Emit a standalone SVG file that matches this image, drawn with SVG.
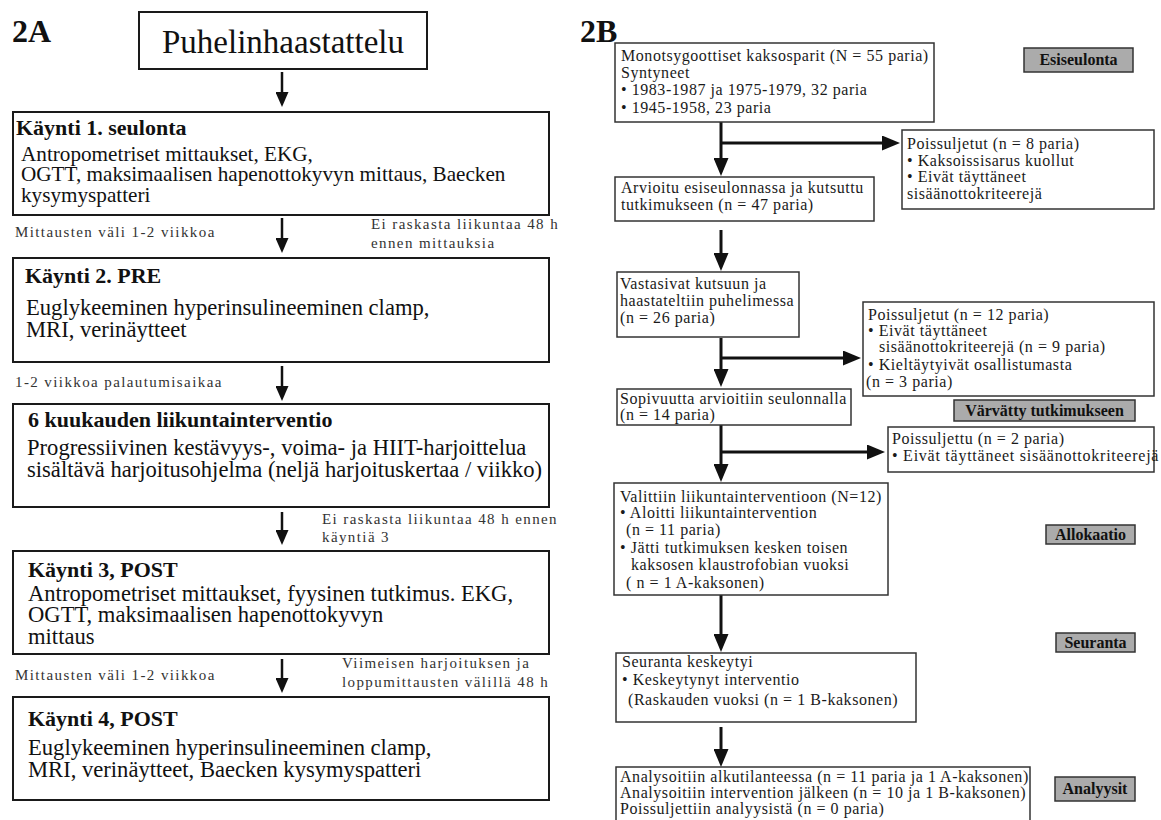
<svg xmlns="http://www.w3.org/2000/svg" width="1161" height="820" viewBox="0 0 1161 820">
<defs>
<style>
text{font-family:"Liberation Serif","Times New Roman",serif;fill:#111}
.pl{font-size:32px;font-weight:bold}
.boxA{fill:#fff;stroke:#1a1a1a;stroke-width:2}
.boxB{fill:#fff;stroke:#333;stroke-width:1.5}
.tag{fill:#ababab;stroke:#333;stroke-width:1.5}
.tt{font-size:22px;font-weight:bold}
.b22{font-size:21.2px}
.b23{font-size:22.6px}
.lab{font-size:15px;letter-spacing:1.4px;fill:#333}
.rb{font-size:16px;letter-spacing:0.55px;fill:#1a1a1a}
.tg{font-size:16px;font-weight:bold;text-anchor:middle}
.cA{fill:none;stroke:#111;stroke-width:2.5}
.cB{fill:none;stroke:#111;stroke-width:3}
</style>
<marker id="ahA" viewBox="0 0 15 13" refX="0" refY="6.5" markerWidth="15" markerHeight="13" markerUnits="userSpaceOnUse" orient="auto"><path d="M0,0 L15,6.5 L0,13 z" fill="#111"/></marker>
<marker id="ahB" viewBox="0 0 18 15" refX="0" refY="7.5" markerWidth="18" markerHeight="15" markerUnits="userSpaceOnUse" orient="auto"><path d="M0,0 L18,7.5 L0,15 z" fill="#111"/></marker>
</defs>
<rect width="1161" height="820" fill="#fff"/>

<text class="pl" x="12" y="42">2A</text>
<text class="pl" x="580" y="42">2B</text>

<g id="connectors">
<path class="cA" d="M282,72 V92" marker-end="url(#ahA)"/>
<path class="cA" d="M282,218 V238" marker-end="url(#ahA)"/>
<path class="cA" d="M282,366 V386" marker-end="url(#ahA)"/>
<path class="cA" d="M282,512 V530" marker-end="url(#ahA)"/>
<path class="cA" d="M282,659 V678" marker-end="url(#ahA)"/>
<path class="cB" d="M721,122 V158" marker-end="url(#ahB)"/>
<path class="cB" d="M721,143 H882" marker-end="url(#ahB)"/>
<path class="cB" d="M721,230 V253" marker-end="url(#ahB)"/>
<path class="cB" d="M721,338 V369" marker-end="url(#ahB)"/>
<path class="cB" d="M721,358 H843" marker-end="url(#ahB)"/>
<path class="cB" d="M721,425 V464" marker-end="url(#ahB)"/>
<path class="cB" d="M721,452 H867" marker-end="url(#ahB)"/>
<path class="cB" d="M721,595 V634" marker-end="url(#ahB)"/>
<path class="cB" d="M721,727 V749" marker-end="url(#ahB)"/>
</g>

<g id="labelsA">
<text class="lab" x="15" y="237">Mittausten väli 1-2 viikkoa</text>
<text class="lab" x="371" y="229">Ei raskasta liikuntaa 48 h</text>
<text class="lab" x="371" y="248">ennen mittauksia</text>
<text class="lab" x="15" y="387">1-2 viikkoa palautumisaikaa</text>
<text class="lab" x="322" y="524">Ei raskasta liikuntaa 48 h ennen</text>
<text class="lab" x="322" y="542">käyntiä 3</text>
<text class="lab" x="15" y="680">Mittausten väli 1-2 viikkoa</text>
<text class="lab" x="342" y="668">Viimeisen harjoituksen ja</text>
<text class="lab" x="342" y="687">loppumittausten välillä 48 h</text>
</g>

<g id="puhelinhaastattelu">
<rect class="boxA" x="139" y="12" width="288" height="57"/>
<text x="283" y="53" font-size="33" text-anchor="middle">Puhelinhaastattelu</text>
</g>

<g id="kaynti1">
<rect class="boxA" x="13" y="112" width="536" height="103"/>
<text class="tt" x="16" y="135">Käynti 1. seulonta</text>
<text class="b22" x="21" y="161">Antropometriset mittaukset, EKG,</text>
<text class="b22" x="21" y="181">OGTT, maksimaalisen hapenottokyvyn mittaus, Baecken</text>
<text class="b22" x="21" y="202">kysymyspatteri</text>
</g>

<g id="kaynti2">
<rect class="boxA" x="13" y="258" width="536" height="104"/>
<text class="tt" x="25" y="283">Käynti 2. PRE</text>
<text class="b23" x="26" y="315">Euglykeeminen hyperinsulineeminen clamp,</text>
<text class="b23" x="26" y="337">MRI, verinäytteet</text>
</g>

<g id="interventio">
<rect class="boxA" x="13" y="404" width="536" height="103"/>
<text class="tt" x="28" y="427">6 kuukauden liikuntainterventio</text>
<text class="b23" x="27" y="455">Progressiivinen kestävyys-, voima- ja HIIT-harjoittelua</text>
<text class="b23" x="27" y="477">sisältävä harjoitusohjelma (neljä harjoituskertaa / viikko)</text>
</g>

<g id="kaynti3">
<rect class="boxA" x="13" y="551" width="536" height="103"/>
<text class="tt" x="28" y="577">Käynti 3, POST</text>
<text class="b23" x="28" y="601">Antropometriset mittaukset, fyysinen tutkimus. EKG,</text>
<text class="b23" x="28" y="622">OGTT, maksimaalisen hapenottokyvyn</text>
<text class="b23" x="28" y="644">mittaus</text>
</g>

<g id="kaynti4">
<rect class="boxA" x="13" y="697" width="536" height="103"/>
<text class="tt" x="28" y="726">Käynti 4, POST</text>
<text class="b23" x="28" y="755">Euglykeeminen hyperinsulineeminen clamp,</text>
<text class="b23" x="28" y="777">MRI, verinäytteet, Baecken kysymyspatteri</text>
</g>

<g id="monotsygoottiset">
<rect class="boxB" x="615" y="43" width="319" height="79"/>
<text class="rb" x="621" y="61">Monotsygoottiset kaksosparit (N = 55 paria)</text>
<text class="rb" x="621" y="78">Syntyneet</text>
<text class="rb" x="621" y="95">• 1983-1987 ja 1975-1979, 32 paria</text>
<text class="rb" x="621" y="113">• 1945-1958, 23 paria</text>
</g>

<g id="tag-esiseulonta">
<rect class="tag" x="1024" y="48" width="109" height="24"/>
<text class="tg" x="1078.5" y="65">Esiseulonta</text>
</g>

<g id="poissuljetut1">
<rect class="boxB" x="902" y="130" width="252" height="79"/>
<text class="rb" x="907" y="149">Poissuljetut (n = 8 paria)</text>
<text class="rb" x="907" y="166">• Kaksoissisarus kuollut</text>
<text class="rb" x="907" y="182">• Eivät täyttäneet</text>
<text class="rb" x="907" y="199">sisäänottokriteerejä</text>
</g>

<g id="arvioitu">
<rect class="boxB" x="615" y="177" width="259" height="44"/>
<text class="rb" x="621" y="193">Arvioitu esiseulonnassa ja kutsuttu</text>
<text class="rb" x="621" y="210">tutkimukseen (n = 47 paria)</text>
</g>

<g id="vastasivat">
<rect class="boxB" x="617" y="272" width="182" height="65"/>
<text class="rb" x="620" y="289">Vastasivat kutsuun ja</text>
<text class="rb" x="620" y="306">haastateltiin puhelimessa</text>
<text class="rb" x="620" y="323">(n = 26 paria)</text>
</g>

<g id="poissuljetut2">
<rect class="boxB" x="863" y="302" width="291" height="94"/>
<text class="rb" x="868" y="320">Poissuljetut (n = 12 paria)</text>
<text class="rb" x="868" y="336">• Eivät täyttäneet</text>
<text class="rb" x="879" y="352">sisäänottokriteerejä (n = 9 paria)</text>
<text class="rb" x="868" y="370">• Kieltäytyivät osallistumasta</text>
<text class="rb" x="866" y="387">(n = 3 paria)</text>
</g>

<g id="sopivuutta">
<rect class="boxB" x="617" y="389" width="234" height="36"/>
<text class="rb" x="620" y="404">Sopivuutta arvioitiin seulonnalla</text>
<text class="rb" x="620" y="420">(n = 14 paria)</text>
</g>

<g id="tag-varvatty">
<rect class="tag" x="954" y="400" width="181" height="21"/>
<text class="tg" x="1044.5" y="416">Värvätty tutkimukseen</text>
</g>

<g id="poissuljettu3">
<rect class="boxB" x="888" y="427" width="266" height="45"/>
<text class="rb" x="892" y="444">Poissuljettu (n = 2 paria)</text>
<text class="rb" x="892" y="461" style="letter-spacing:0.75px">• Eivät täyttäneet sisäänottokriteerejä</text>
</g>

<g id="valittiin">
<rect class="boxB" x="614" y="483" width="274" height="112"/>
<text class="rb" x="620" y="502">Valittiin liikuntainterventioon (N=12)</text>
<text class="rb" x="620" y="518">• Aloitti liikuntaintervention</text>
<text class="rb" x="626" y="535">(n = 11 paria)</text>
<text class="rb" x="620" y="553">• Jätti tutkimuksen kesken toisen</text>
<text class="rb" x="631" y="570">kaksosen klaustrofobian vuoksi</text>
<text class="rb" x="626" y="588">( n = 1 A-kaksonen)</text>
</g>

<g id="tag-allokaatio">
<rect class="tag" x="1046" y="525" width="89" height="19"/>
<text class="tg" x="1090.5" y="540">Allokaatio</text>
</g>

<g id="tag-seuranta">
<rect class="tag" x="1056" y="633" width="79" height="19"/>
<text class="tg" x="1095.5" y="648">Seuranta</text>
</g>

<g id="seuranta">
<rect class="boxB" x="616" y="653" width="300" height="69"/>
<text class="rb" x="622" y="667">Seuranta keskeytyi</text>
<text class="rb" x="622" y="685">• Keskeytynyt interventio</text>
<text class="rb" x="628" y="705">(Raskauden vuoksi (n = 1 B-kaksonen)</text>
</g>

<g id="analysoitiin">
<rect class="boxB" x="616" y="767" width="414" height="60"/>
<text class="rb" x="620" y="782">Analysoitiin alkutilanteessa (n = 11 paria ja 1 A-kaksonen)</text>
<text class="rb" x="620" y="798">Analysoitiin intervention jälkeen (n = 10 ja 1 B-kaksonen)</text>
<text class="rb" x="620" y="814">Poissuljettiin analyysistä (n = 0 paria)</text>
</g>

<g id="tag-analyysit">
<rect class="tag" x="1055" y="777" width="80" height="24"/>
<text class="tg" x="1095" y="794">Analyysit</text>
</g>
</svg>
